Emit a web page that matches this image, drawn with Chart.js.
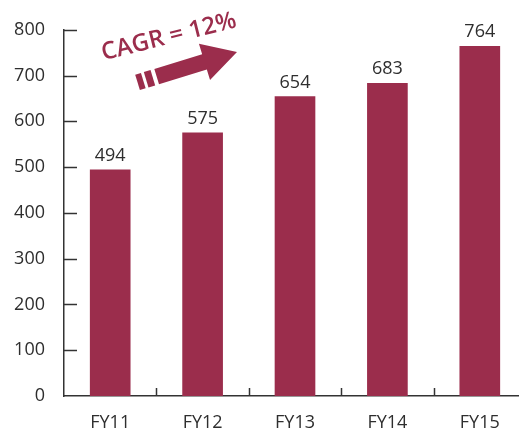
<!DOCTYPE html>
<html>
<head>
<meta charset="utf-8">
<script src="https://cdn.jsdelivr.net/npm/chart.js@4"></script>
<style>
  html, body { margin: 0; padding: 0; overflow: hidden; background: #fff; }
  #wrap { width: 526px; height: 428px; }
</style>
</head>
<body>
<div id="wrap"><canvas id="chart"></canvas></div>
<script>
const categories = ["FY11", "FY12", "FY13", "FY14", "FY15"];
const revenue = [494, 575, 654, 683, 764];
const yMax = 800;
const yStep = 100;
const cagrLabel = "CAGR = 12%";

const barColor = "#9b2d4c";
const textColor = "#2e2e2e";
const axisColor = "#333333";
const fontFamily = "'Open Sans', 'Noto Sans', sans-serif";

// inward tick marks, value labels and the CAGR arrow
const extras = {
	id: "extras",
	afterDraw(chart) {
		const { ctx, chartArea, scales } = chart;
		const x = scales.x, y = scales.y;
		ctx.save();
		ctx.strokeStyle = axisColor;
		ctx.lineWidth = 1.5;

		// y ticks pointing into the plot
		y.ticks.forEach((t) => {
			if (t.value === 0) return;
			const py = Math.round(y.getPixelForValue(t.value)) + 0.5;
			ctx.beginPath();
			ctx.moveTo(chartArea.left, py);
			ctx.lineTo(chartArea.left + 13, py);
			ctx.stroke();
		});

		// x ticks between categories, pointing up
		const half = (x.getPixelForValue(1) - x.getPixelForValue(0)) / 2;
		for (let i = 1; i < categories.length; i++) {
			const px = Math.round(x.getPixelForValue(i) - half) + 0.5;
			ctx.beginPath();
			ctx.moveTo(px, chartArea.bottom);
			ctx.lineTo(px, chartArea.bottom - 8);
			ctx.stroke();
		}

		// value labels
		ctx.fillStyle = textColor;
		ctx.font = "18px " + fontFamily;
		ctx.textAlign = "center";
		ctx.textBaseline = "alphabetic";
		chart.getDatasetMeta(0).data.forEach((bar, i) => {
			ctx.fillText(String(revenue[i]), bar.x, bar.y - 9);
		});

		// CAGR arrow
		ctx.fillStyle = barColor;
		ctx.save();
		ctx.translate(237, 52);
		ctx.rotate(-17 * Math.PI / 180);
		ctx.beginPath();
		ctx.moveTo(0, 0);
		ctx.lineTo(-34, -19);
		ctx.lineTo(-34, -8);
		ctx.lineTo(-84, -8);
		ctx.lineTo(-84, 8);
		ctx.lineTo(-34, 8);
		ctx.lineTo(-34, 19);
		ctx.closePath();
		ctx.fill();
		ctx.fillRect(-95, -8, 7, 16);
		ctx.fillRect(-104, -8, 6, 16);
		ctx.restore();

		// CAGR text
		ctx.save();
		ctx.translate(169, 37);
		ctx.rotate(-14 * Math.PI / 180);
		ctx.font = "600 24px " + fontFamily;
		ctx.textAlign = "center";
		ctx.textBaseline = "middle";
		ctx.fillText(cagrLabel, 0, 0);
		ctx.restore();

		ctx.restore();
	},
};

new Chart(document.getElementById("chart"), {
	type: "bar",
	data: {
		labels: categories,
		datasets: [
			{
				data: revenue,
				backgroundColor: barColor,
				barThickness: 40,
			},
		],
	},
	options: {
		responsive: true,
		maintainAspectRatio: false,
		animation: false,
		layout: { padding: { left: 0, top: 28, right: 0, bottom: 0 } },
		plugins: {
			legend: { display: false },
			tooltip: { enabled: false },
		},
		scales: {
			x: {
				grid: { display: false, drawTicks: false },
				border: { display: true, color: axisColor, width: 1.5 },
				ticks: {
					color: textColor,
					padding: 16,
					font: { family: fontFamily, size: 18 },
				},
				afterFit: (s) => { s.height = 32; },
			},
			y: {
				min: 0,
				max: yMax,
				grid: { display: false, drawTicks: false },
				border: { display: true, color: axisColor, width: 1.5 },
				ticks: {
					stepSize: yStep,
					color: textColor,
					padding: 19,
					font: { family: fontFamily, size: 18 },
				},
				afterFit: (s) => { s.width = 64; },
			},
		},
	},
	plugins: [extras],
});
</script>
</body>
</html>
